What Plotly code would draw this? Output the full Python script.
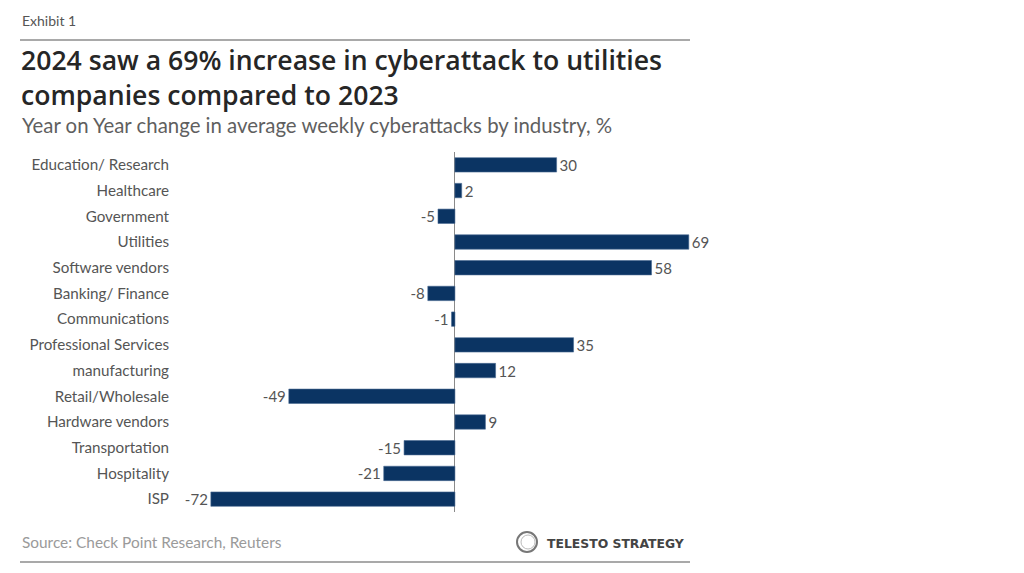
import plotly.graph_objects as go

categories = ["Education/ Research", "Healthcare", "Government", "Utilities",
              "Software vendors", "Banking/ Finance", "Communications",
              "Professional Services", "manufacturing", "Retail/Wholesale",
              "Hardware vendors", "Transportation", "Hospitality", "ISP"]
values = [30, 2, -5, 69, 58, -8, -1, 35, 12, -49, 9, -15, -21, -72]

title_lines = ["2024 saw a 69% increase in cyberattack to utilities",
               "companies compared to 2023"]
subtitle_text = "Year on Year change in average weekly cyberattacks by industry, %"
exhibit_text = "Exhibit 1"
source_text = "Source: Check Point Research, Reuters"
logo_text = "TELESTO STRATEGY"

W, H = 1024, 573
OFF = 8  # page body offset
L, R, T, B = 180 - OFF, 700 - OFF, 152 - OFF, 512 - OFF

def px(x):
    return (x - OFF - L) / (R - L)

def py(y):
    return (B - (y - OFF)) / (B - T)

BAR = "#0B3463"

fig = go.Figure(go.Bar(
    x=values, y=categories, orientation="h",
    marker=dict(color=BAR, line=dict(color="#4a6a92", width=0.6)),
    width=0.56,
    text=[str(v) for v in values], textposition="outside",
    constraintext="none",
    textfont=dict(family="Lato", size=15, color="#555555"),
    cliponaxis=False,
))

fig.update_layout(
    width=W, height=H,
    margin=dict(l=L, r=W - R, t=T, b=H - B, pad=0),
    paper_bgcolor="white", plot_bgcolor="white",
    showlegend=False,
    font=dict(family="Lato", color="#555555"),
    xaxis=dict(range=[-81.1, 72.3], showgrid=False, showticklabels=False,
               zeroline=True, zerolinecolor="#8a8a8a", zerolinewidth=1,
               showline=False, ticks=""),
    yaxis=dict(autorange="reversed", showgrid=False, ticks="", ticklen=0,
               tickfont=dict(family="Lato", size=15.2, color="#555555"),
               ticklabelstandoff=10, showline=False),
)

ann = [
    dict(text=exhibit_text, x=px(20), y=py(20), xanchor="left", yanchor="middle",
         font=dict(family="Lato", size=14, color="#555555")),
    dict(text="<br>".join(title_lines), x=px(19), y=py(77), xanchor="left",
         yanchor="middle", align="left",
         font=dict(family="Open Sans", size=26.6, color="#262626", weight=600)),
    dict(text=subtitle_text, x=px(20), y=py(125), xanchor="left", yanchor="middle",
         font=dict(family="Lato", size=20.4, color="#5f5f5f")),
    dict(text=source_text, x=px(20), y=py(542), xanchor="left", yanchor="middle",
         font=dict(family="Lato", size=15.4, color="#9a9a9a")),
    dict(text=logo_text, x=px(545), y=py(543), xanchor="left", yanchor="middle",
         font=dict(family="DejaVu Sans", size=12.4, color="#444444", weight=700)),
]
for a in ann:
    a.update(xref="paper", yref="paper", showarrow=False)
fig.update_layout(annotations=ann)

shapes = [
    dict(type="line", x0=px(20), x1=px(690), y0=py(40), y1=py(40),
         line=dict(color="#8c8c8c", width=1.5)),
    dict(type="line", x0=px(20), x1=px(690), y0=py(562), y1=py(562),
         line=dict(color="#8c8c8c", width=1.5)),
    dict(type="circle", x0=px(517), x1=px(537), y0=py(552), y1=py(532),
         line=dict(color="#777777", width=2)),
    dict(type="circle", x0=px(521), x1=px(535), y0=py(549), y1=py(535),
         line=dict(color="#bbbbbb", width=1)),
]
for s in shapes:
    s.update(xref="paper", yref="paper")
fig.update_layout(shapes=shapes)

fig.write_html("out.html")
